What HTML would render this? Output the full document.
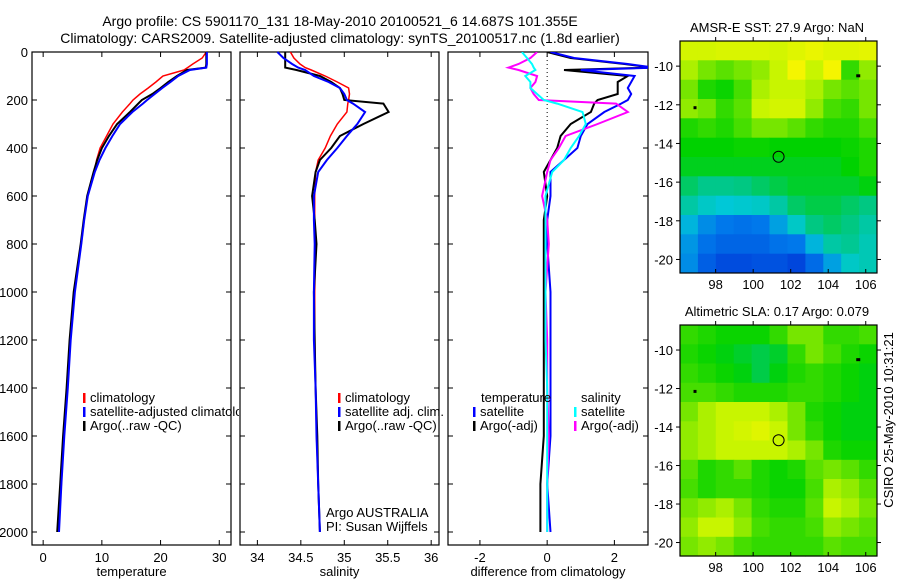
<!DOCTYPE html>
<html><head><meta charset="utf-8"><style>
body{margin:0;background:#fff;width:900px;height:580px;overflow:hidden}
svg{display:block;font-family:"Liberation Sans",sans-serif}
text{font-size:13px;fill:#000}
</style></head><body>
<svg id="fig" width="900" height="580" viewBox="0 0 900 580">
<text x="340" y="26" text-anchor="middle" style="font-size:14px">Argo profile: CS 5901170_131 18-May-2010 20100521_6 14.687S 101.355E</text>
<text x="340" y="43" text-anchor="middle" style="font-size:14px">Climatology: CARS2009. Satellite-adjusted climatology: synTS_20100517.nc (1.8d earlier)</text>
</svg>
<script>
const depths=[0,25,50,65,75,100,125,150,175,200,215,250,300,350,400,450,500,600,700,800,1000,1200,1400,1600,1800,2000];
const climT=[27.8,27.1,25.5,24.6,24,20.4,19.2,17.9,16.5,15.3,14.8,13.5,11.9,10.8,9.7,9.1,8.7,7.5,7,6.5,5.3,4.6,4.1,3.5,3.1,2.6];
const satT=[27.9,27.9,27.9,27.8,25,23,21.7,20.3,19,17.7,17,15.2,13.1,11.8,10.6,9.6,8.8,7.6,7,6.5,5.4,4.7,4.2,3.6,3.1,2.7];
const argoT=[27.8,27.8,27.8,27.7,24.5,22.8,21.3,20,18.6,16.8,16.2,14.8,12.6,11.2,10,9.2,8.6,7.5,6.9,6.4,5.2,4.5,4,3.4,2.9,2.4];
const climS=[34.38,34.42,34.49,34.55,34.62,34.78,34.92,35.05,35.06,35.05,35.04,35.03,34.92,34.84,34.78,34.7,34.67,34.66,34.66,34.67,34.66,34.66,34.67,34.68,34.7,34.72];
const satS=[34.23,34.3,34.4,34.47,34.55,34.65,34.82,34.95,35.0,35.03,35.1,35.24,35.15,35.03,34.92,34.8,34.7,34.65,34.65,34.66,34.65,34.65,34.67,34.68,34.7,34.72];
const argoS=[34.32,34.32,34.32,34.32,34.45,34.72,34.85,34.95,34.98,35.0,35.45,35.51,35.22,34.95,34.85,34.72,34.67,34.63,34.66,34.68,34.65,34.66,34.67,34.69,34.7,34.72];
const depthTicks=[0,200,400,600,800,1000,1200,1400,1600,1800,2000];
const tempTicks=[0,10,20,30];
const salTicks=[34,34.5,35,35.5,36];
const diffTicks=[-2,0,2];
const lonTicks=[98,100,102,104,106];
const latTicks=[-10,-12,-14,-16,-18,-20];
const sstGrid=[
[0.74,0.74,0.75,0.75,0.75,0.74,0.76,0.78,0.76,0.76,0.77],
[0.7,0.66,0.64,0.66,0.68,0.72,0.8,0.72,0.8,0.6,0.68],
[0.66,0.58,0.56,0.62,0.7,0.72,0.72,0.7,0.66,0.64,0.66],
[0.68,0.66,0.6,0.64,0.72,0.74,0.74,0.68,0.62,0.6,0.66],
[0.58,0.6,0.58,0.62,0.66,0.66,0.64,0.6,0.58,0.58,0.62],
[0.55,0.55,0.55,0.56,0.56,0.55,0.55,0.55,0.55,0.56,0.58],
[0.53,0.53,0.53,0.53,0.53,0.53,0.53,0.53,0.53,0.55,0.58],
[0.48,0.45,0.45,0.46,0.48,0.5,0.52,0.52,0.52,0.52,0.54],
[0.42,0.38,0.36,0.37,0.38,0.42,0.48,0.5,0.5,0.48,0.46],
[0.34,0.3,0.28,0.27,0.28,0.32,0.38,0.46,0.48,0.46,0.42],
[0.31,0.27,0.25,0.25,0.25,0.27,0.28,0.34,0.42,0.44,0.4],
[0.3,0.24,0.21,0.21,0.22,0.22,0.2,0.26,0.32,0.38,0.4]];
const slaGrid=[
[0.6,0.58,0.56,0.56,0.56,0.6,0.66,0.66,0.6,0.6,0.62],
[0.58,0.56,0.54,0.52,0.5,0.52,0.6,0.66,0.62,0.58,0.56],
[0.6,0.58,0.56,0.54,0.5,0.54,0.58,0.6,0.58,0.56,0.54],
[0.62,0.62,0.6,0.58,0.58,0.58,0.6,0.6,0.58,0.56,0.54],
[0.66,0.7,0.72,0.72,0.72,0.7,0.66,0.58,0.56,0.54,0.54],
[0.68,0.7,0.72,0.74,0.76,0.72,0.66,0.6,0.56,0.54,0.54],
[0.68,0.7,0.72,0.72,0.72,0.72,0.7,0.66,0.58,0.56,0.56],
[0.64,0.58,0.6,0.64,0.58,0.56,0.58,0.64,0.66,0.64,0.6],
[0.62,0.58,0.6,0.6,0.58,0.56,0.56,0.62,0.7,0.68,0.64],
[0.66,0.68,0.7,0.66,0.6,0.58,0.58,0.64,0.72,0.7,0.66],
[0.68,0.72,0.72,0.68,0.62,0.6,0.6,0.62,0.68,0.66,0.64],
[0.66,0.68,0.66,0.62,0.6,0.6,0.6,0.6,0.64,0.62,0.62]];
const argoLon=101.355, argoLat=-14.687;

const NS='http://www.w3.org/2000/svg';
const svg=document.getElementById('fig');
function mk(tag,attrs,parent){const e=document.createElementNS(NS,tag);for(const k in attrs)e.setAttribute(k,attrs[k]);(parent||svg).appendChild(e);return e;}
function txt(x,y,s,anchor){const e=mk('text',{x:x,y:y,'text-anchor':anchor||'start'});e.textContent=s;return e;}

const TOP=52,BOT=545;
const yD=d=>52+d*0.24;
function panel(x0,x1,xmin,xmax,ticks,xlabel,name,showY){
  const sx=v=>x0+(v-xmin)/(xmax-xmin)*(x1-x0);
  const g=mk('g',{});
  
  
  const r=mk('rect',{x:x0,y:TOP,width:x1-x0,height:BOT-TOP,fill:'none',stroke:'#000','stroke-width':1.2},g);
  
  
  depthTicks.forEach(d=>{
    mk('line',{x1:x0,x2:x0+5,y1:yD(d),y2:yD(d),stroke:'#000'},g);
    mk('line',{x1:x1,x2:x1-5,y1:yD(d),y2:yD(d),stroke:'#000'},g);
    if(showY){const t=txt(28,yD(d)+5,String(d),'end');}
  });
  ticks.forEach(v=>{
    mk('line',{x1:sx(v),x2:sx(v),y1:BOT,y2:BOT-5,stroke:'#000'},g);
    mk('line',{x1:sx(v),x2:sx(v),y1:TOP,y2:TOP+5,stroke:'#000'},g);
    const t=txt(sx(v),562,String(v),'middle');
    
    
  });
  const xl=txt((x0+x1)/2,576,xlabel,'middle');
  
  
  return sx;
}
function line(sx,vals,color,w,name,clip){
  const pts=vals.map((v,i)=>sx(v).toFixed(1)+','+yD(depths[i]).toFixed(1)).join(' ');
  const p=mk('polyline',{points:pts,fill:'none',stroke:color,'stroke-width':w,'clip-path':clip||''});
  
  
}
function legend(x,y,color,label,name,clip){
  const b=mk('rect',{x:x,y:y-9,width:2.5,height:10,fill:color});
  
  
  const t=txt(x+7,y,label);
  if(clip)t.setAttribute('clip-path',clip);
  
  
}
const cp1=mk('clipPath',{id:'tclip'});mk('rect',{x:32,y:52,width:207,height:493},cp1);
const sT=panel(32,231,-1.9,32,tempTicks,'temperature','temperature-panel',true);
line(sT,climT,'#f00',1.5,'temperature-climatology-line');
line(sT,argoT,'#000',2,'temperature-argo-line');
line(sT,satT,'#00f',2,'temperature-satellite-line');
legend(83,402,'#f00','climatology','legend-climatology');
legend(83,416,'#00f','satellite-adjusted climatology','legend-satellite-adjusted','url(#tclip)');
legend(83,430,'#000','Argo(..raw -QC)','legend-argo');

const sS=panel(240,439,33.8,36.09,salTicks,'salinity','salinity-panel',false);
line(sS,climS,'#f00',1.5,'salinity-climatology-line');
line(sS,argoS,'#000',2,'salinity-argo-line');
line(sS,satS,'#00f',2,'salinity-satellite-line');
legend(338,402,'#f00','climatology','legend-sal-climatology');
legend(338,416,'#00f','satellite adj. clim.','legend-sal-satellite');
legend(338,430,'#000','Argo(..raw -QC)','legend-sal-argo');
txt(326,517,'Argo AUSTRALIA');
txt(326,531,'PI: Susan Wijffels');

const cp=mk('clipPath',{id:'dclip'});mk('rect',{x:448,y:52,width:200,height:493},cp);
const sD=panel(448,648,-2.95,3.0,diffTicks,'difference from climatology','difference-panel',false);
mk('line',{x1:sD(0),x2:sD(0),y1:52,y2:yD(420),stroke:'#000','stroke-dasharray':'1,3'});
line(sD,argoT.map((v,i)=>v-climT[i]),'#000',2,'diff-temperature-argo-line','url(#dclip)');
line(sD,satT.map((v,i)=>v-climT[i]),'#00f',2,'diff-temperature-satellite-line','url(#dclip)');
line(sD,argoS.map((v,i)=>(v-climS[i])*5),'#f0f',2,'diff-salinity-argo-line','url(#dclip)');
line(sD,satS.map((v,i)=>(v-climS[i])*5),'#0ff',2,'diff-salinity-satellite-line','url(#dclip)');
txt(481,402,'temperature');
legend(473,416,'#00f','satellite','legend-diff-t-satellite');
legend(473,430,'#000','Argo(-adj)','legend-diff-t-argo');
txt(581,402,'salinity');
legend(574,416,'#0ff','satellite','legend-diff-s-satellite');
legend(574,430,'#f0f','Argo(-adj)','legend-diff-s-argo');

const stops=[[0.1,[0,30,170]],[0.2,[0,70,220]],[0.28,[0,120,235]],[0.36,[0,200,215]],[0.46,[0,200,130]],[0.55,[0,210,0]],[0.64,[90,225,0]],[0.72,[200,245,0]],[0.8,[245,245,0]],[0.87,[245,160,0]],[0.95,[180,0,0]]];
function cmap(v){
  if(v<=stops[0][0])return 'rgb('+stops[0][1]+')';
  for(let i=1;i<stops.length;i++){if(v<=stops[i][0]){const a=stops[i-1],b=stops[i],t=(v-a[0])/(b[0]-a[0]);return 'rgb('+a[1].map((c,k)=>Math.round(c+(b[1][k]-c)*t)).join(',')+')';}}
  return 'rgb('+stops[stops.length-1][1]+')';
}
function map(top,bot,grid,title,name){
  const L=680,R=877,lon0=96.1,lon1=106.6,lat0=-8.7,lat1=-20.7;
  const sx=v=>L+(v-lon0)/(lon1-lon0)*(R-L);
  const sy=v=>top+(v-lat0)/(lat1-lat0)*(bot-top);
  const g=mk('g',{});
  
  
  const nr=grid.length,nc=grid[0].length,dlon=(lon1-lon0)/nc,dlat=(lat1-lat0)/nr;
  grid.forEach((row,i)=>row.forEach((v,j)=>{
    const x=sx(lon0+j*dlon),y=sy(lat0+i*dlat);
    const c=mk('rect',{x:x.toFixed(1),y:y.toFixed(1),width:(sx(lon0+(j+1)*dlon)-x+0.5).toFixed(1),height:(sy(lat0+(i+1)*dlat)-y+0.5).toFixed(1),fill:cmap(v)},g);
    
    
  }));
  mk('rect',{x:L,y:top,width:R-L,height:bot-top,fill:'none',stroke:'#000','stroke-width':1.2},g);
  lonTicks.forEach(v=>{
    mk('line',{x1:sx(v),x2:sx(v),y1:bot,y2:bot-4,stroke:'#000'},g);
    mk('line',{x1:sx(v),x2:sx(v),y1:top,y2:top-4,stroke:'#000'},g);
    const t=txt(sx(v),bot+16,String(v),'middle');
  });
  latTicks.forEach(v=>{
    mk('line',{x1:R,x2:R+4,y1:sy(v),y2:sy(v),stroke:'#000'},g);
    mk('line',{x1:L,x2:L-4,y1:sy(v),y2:sy(v),stroke:'#000'},g);
    const t=txt(673,sy(v)+5,String(v),'end');
  });
  const c=mk('circle',{cx:sx(argoLon),cy:sy(argoLat),r:5.5,fill:'none',stroke:'#000','stroke-width':1},g);
  
  
  mk('rect',{x:sx(96.9)-1.5,y:sy(-12.15)-1.5,width:3,height:3,fill:'#000'},g);
  mk('rect',{x:sx(105.6)-2,y:sy(-10.5)-1.5,width:4,height:3,fill:'#000'},g);
  const t=txt(777,top-9,title,'middle');
  
  
}
map(41,273,sstGrid,'AMSR-E SST: 27.9 Argo: NaN','sst-map');
map(325,556,slaGrid,'Altimetric SLA: 0.17 Argo: 0.079','sla-map');
const ts=txt(0,0,'CSIRO 25-May-2010 10:31:21','middle');
ts.setAttribute('transform','translate(893,420) rotate(-90)');


</script>
</body></html>
